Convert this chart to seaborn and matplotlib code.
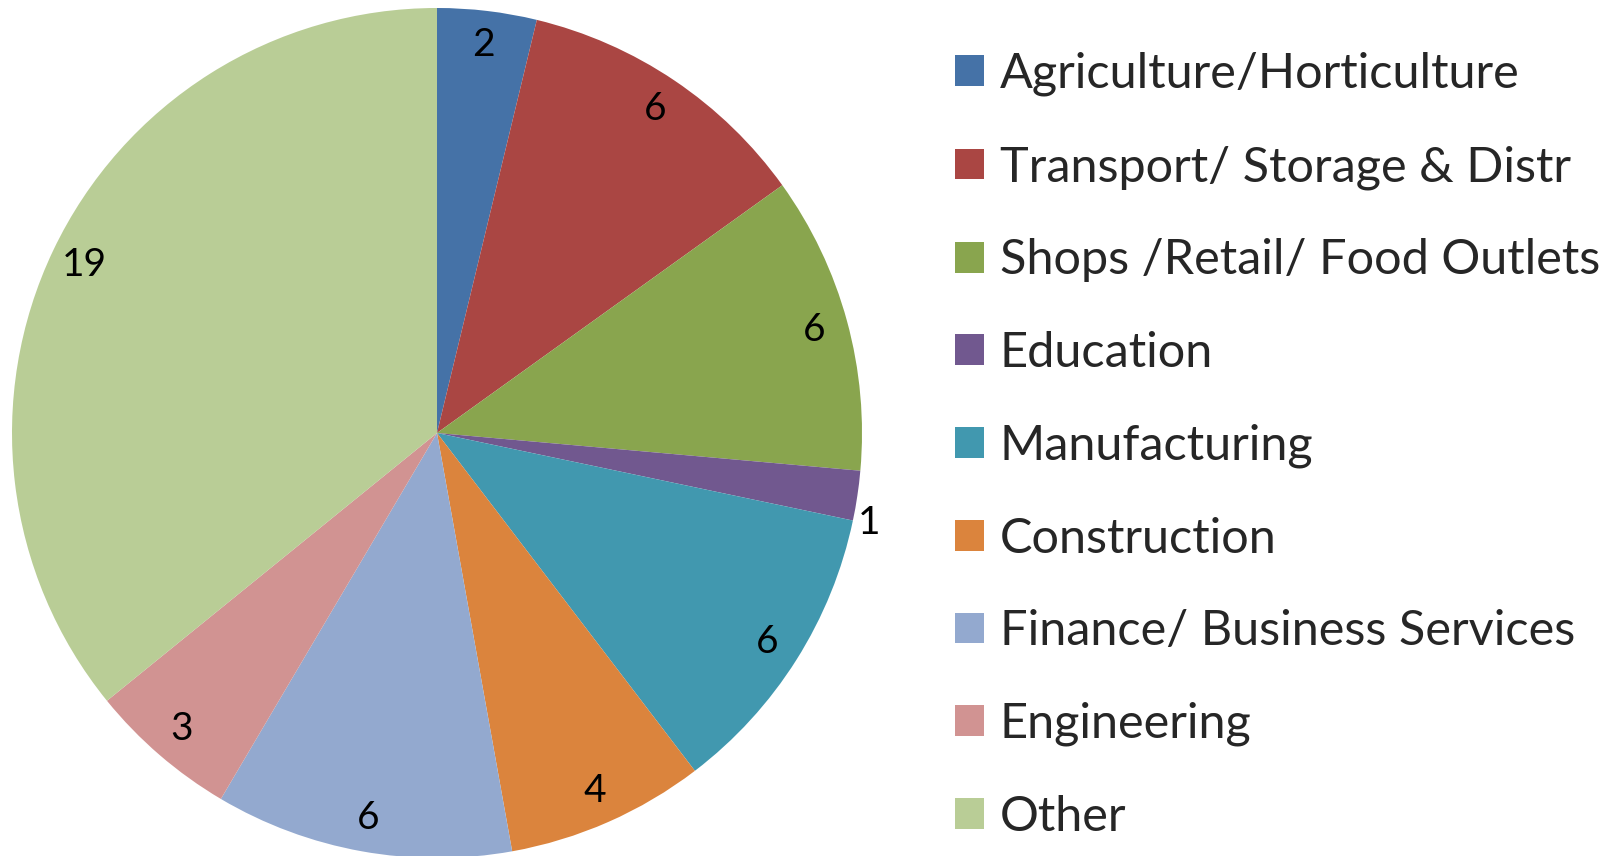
import matplotlib
matplotlib.use("Agg")
import matplotlib.pyplot as plt
import seaborn as sns
import numpy as np

sectors = ["Agriculture/Horticulture", "Transport/ Storage & Distr",
           "Shops /Retail/ Food Outlets", "Education", "Manufacturing",
           "Construction", "Finance/ Business Services", "Engineering", "Other"]
counts = [2, 6, 6, 1, 6, 4, 6, 3, 19]
colors = ["#4572A7", "#AA4643", "#89A54E", "#71588F", "#4198AF",
          "#DB843D", "#93A9CF", "#D19392", "#B9CD96"]

sns.set_theme(style="white")
plt.rcParams['font.family'] = ['Lato', 'DejaVu Sans']

fig = plt.figure(figsize=(16.16, 8.56), dpi=100)
# pie area in pixels: center (437, 433), radius 425
ax = fig.add_axes([(437 - 425) / 1616, (856 - 433 - 425) / 856, 850 / 1616, 850 / 856])

wedges, texts, autotexts = ax.pie(
    counts, colors=colors, startangle=90, counterclock=False,
    autopct=lambda p: f"{p * sum(counts) / 100:.0f}", pctdistance=0.92,
    wedgeprops=dict(linewidth=0), textprops=dict(fontsize=28, color="black"))

# small slice label sits just outside the pie
for w, t, v in zip(wedges, autotexts, counts):
    if v == 1:
        ang = np.deg2rad((w.theta1 + w.theta2) / 2)
        t.set_position((1.0 * np.cos(ang), 1.0 * np.sin(ang) - 0.065))
        t.set_ha("left")

ax.set_xlim(-1, 1)
ax.set_ylim(-1, 1)
ax.set_aspect("equal")

fig.legend(wedges, sectors, loc="upper left", bbox_to_anchor=(955 / 1616, 1 - 52 / 856),
           frameon=False, fontsize=35, handlelength=0.6, handleheight=0.6,
           handletextpad=0.32, labelspacing=1.0, borderaxespad=0, borderpad=0)

fig.savefig("out.png", dpi=100, facecolor="white")
